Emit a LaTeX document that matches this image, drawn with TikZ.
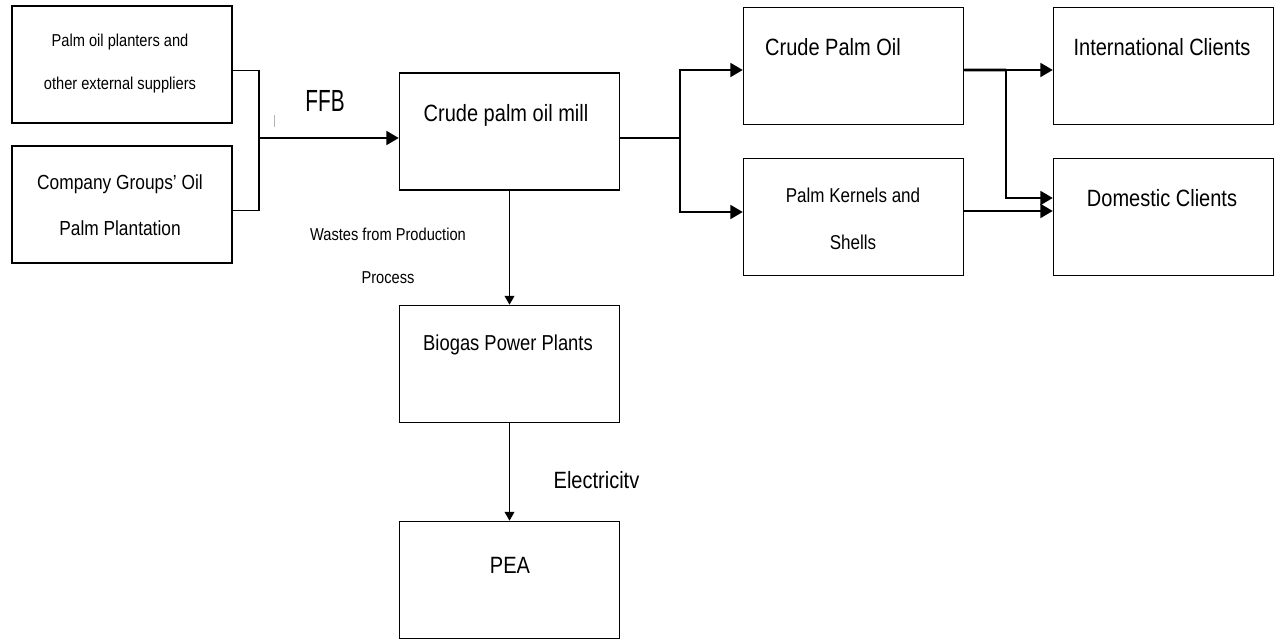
\documentclass[tikz,border=0pt]{standalone}
\usepackage{graphicx}
\usepackage{fontspec}
\setmainfont{Liberation Sans}[FakeStretch=0.85]
\usetikzlibrary{arrows.meta}

\tikzset{
  box/.style={draw, line width=0.9pt, minimum width=4.4cm, minimum height=2.34cm, inner sep=0pt},
  link/.style={line width=0.9pt},
  flow/.style={line width=0.9pt, -{Triangle[length=7pt,width=8pt]}},
  drop/.style={line width=0.8pt, -{Triangle[length=5pt,width=5.5pt]}},
  big/.style={font=\fontsize{13.4}{16}\selectfont},
  mid/.style={font=\fontsize{11.6}{26}\selectfont, align=center},
  small/.style={font=\fontsize{9.8}{24.4}\selectfont, align=center},
}

\begin{document}
\begin{tikzpicture}[x=0.2mm,y=-0.2mm]
    \useasboundingbox (0,0) rectangle (1276,639);

    % Suppliers
    \node[box] (planters) at (122,64.5) {};
    \node[small] (t-planters) at (120,63.5) {Palm oil planters  and\\other external  suppliers};
    \node[box] (company) at (122,204.5) {};
    \node[mid] (t-company) at (120,205) {Company Groups' Oil\\Palm Plantation};

    % Mill
    \node[box] (mill) at (509.5,131.5) {};
    \node[big] (t-mill) at (506,115) {Crude palm oil mill};

    % Products
    \node[box] (cpo) at (853.5,66) {};
    \node[big] (t-cpo) at (833,47) {Crude Palm Oil};
    \node[box] (pks) at (853.5,217) {};
    \node[mid, font=\fontsize{11.4}{26.7}\selectfont] (t-pks) at (853,218.5) {Palm Kernels and\\Shells};

    % Clients
    \node[box] (intl) at (1163.5,66) {};
    \node[big] (t-intl) at (1162,47) {International Clients};
    \node[box] (dom) at (1163.5,217) {};
    \node[big] (t-dom) at (1162,198) {Domestic Clients};

    % Biogas and PEA
    \node[box] (biogas) at (509.5,364) {};
    \node[font=\fontsize{12.3}{15}\selectfont] (t-biogas) at (508,345) {Biogas Power Plants};
    \node[box] (pea) at (509.5,580) {};
    \node[big] (t-pea) at (510,565) {PEA};

    % Labels
    \node[font=\fontsize{17.4}{20}\selectfont] (t-ffb) at (325,101) {\scalebox{0.8}[1]{FFB}};
    \draw[gray!60, line width=0.5pt] (274,115) -- (274,127);
    \node[small] (t-waste) at (388,256) {Wastes from Production\\Process};
    \node[big] (t-elec) at (596.5,480) {Electricitv};

    % Connections
    \coordinate (ffb) at (259,138);
    \draw[link] ([yshift=-1.2mm]planters.east) -| (ffb) |- ([yshift=-1.2mm]company.east);
    \draw[flow] (ffb) -- (ffb -| mill.west);

    \coordinate (fork) at (680,138);
    \draw[link] (mill.east |- fork) -- (fork);
    \draw[flow] (fork) |- ([yshift=-0.8mm]cpo.west);
    \draw[flow] (fork) |- ([yshift=1mm]pks.west);

    \coordinate (split) at (1006,70);
    \draw[flow] ([yshift=-0.8mm]cpo.east) -- ([yshift=-0.8mm]intl.west);
    \draw[line width=1.5pt] ([yshift=-0.8mm]cpo.east) -- (split);
    \draw[flow] (split) |- ([yshift=3.8mm]dom.west);
    \draw[flow] ([yshift=1.2mm]pks.east) -- ([yshift=1.2mm]dom.west);

    \draw[drop] (mill) -- (biogas);
    \draw[drop] (biogas) -- (pea);
\end{tikzpicture}
\end{document}
